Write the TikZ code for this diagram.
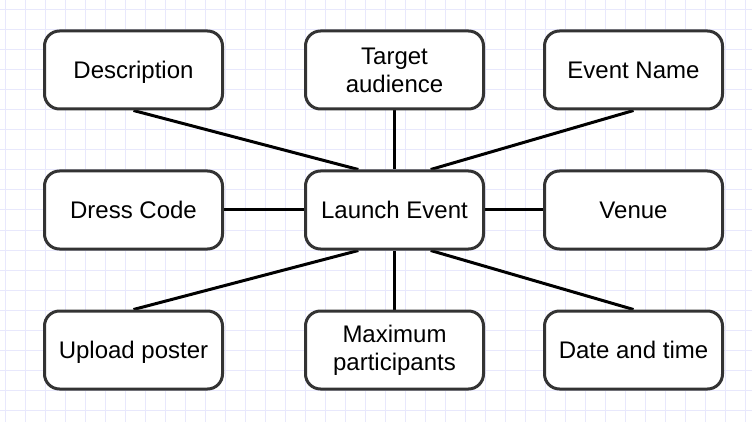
\documentclass[tikz,border=0pt]{standalone}
\usepackage{fontspec}
\setmainfont{Liberation Sans}
\usetikzlibrary{calc}
\pgfdeclarelayer{gridlayer}
\pgfdeclarelayer{edgelayer}
\pgfsetlayers{gridlayer,edgelayer,main}
\definecolor{gridc}{RGB}{232,232,252}
\definecolor{boxc}{RGB}{51,51,51}
\begin{document}
\begin{tikzpicture}[x=1pt,y=-1pt,
  box/.style={draw=boxc, line width=3pt, fill=white, rounded corners=15pt,
    minimum width=178pt, minimum height=78pt, inner sep=0pt, align=center,
    font=\fontsize{24}{28}\selectfont},
  oneline/.style={box, text height=17pt, text depth=0pt},
  link/.style={line width=3pt, black}]
\useasboundingbox (0,0) rectangle (752,422);
\begin{pgfonlayer}{gridlayer}
  \fill[white] (0,0) rectangle (752,422);
  \foreach \x in {5,25,...,745} \draw[gridc, line width=1pt] (\x,0) -- (\x,422);
  \foreach \y in {10,30,...,410} \draw[gridc, line width=1pt] (0,\y) -- (752,\y);
\end{pgfonlayer}

\node[oneline] (desc)   at (133.5,70)  {Description};
\node[box]     (target) at (394.5,70)  {Target\\audience};
\node[oneline] (ename)  at (633.5,70)  {Event Name};
\node[oneline] (dress)  at (133.5,210) {Dress Code};
\node[oneline] (launch) at (394.5,210) {Launch Event};
\node[oneline] (venue)  at (633.5,210) {Venue};
\node[oneline] (poster) at (133.5,350) {Upload poster};
\node[box]     (maxp)   at (394.5,350) {Maximum\\participants};
\node[oneline] (date)   at (633.5,350) {Date and time};

\coordinate (lnl) at ($(launch.north west)!0.3!(launch.north east)$);
\coordinate (lnr) at ($(launch.north west)!0.7!(launch.north east)$);
\coordinate (lsl) at ($(launch.south west)!0.3!(launch.south east)$);
\coordinate (lsr) at ($(launch.south west)!0.7!(launch.south east)$);

\begin{pgfonlayer}{edgelayer}
  \draw[link] (desc.south) -- (lnl);
  \draw[link] (target.south) -- (launch.north);
  \draw[link] (ename.south) -- (lnr);
  \draw[link] (dress.east) -- (launch.west);
  \draw[link] (launch.east) -- (venue.west);
  \draw[link] (poster.north) -- (lsl);
  \draw[link] (maxp.north) -- (launch.south);
  \draw[link] (date.north) -- (lsr);
\end{pgfonlayer}
\end{tikzpicture}
\end{document}
